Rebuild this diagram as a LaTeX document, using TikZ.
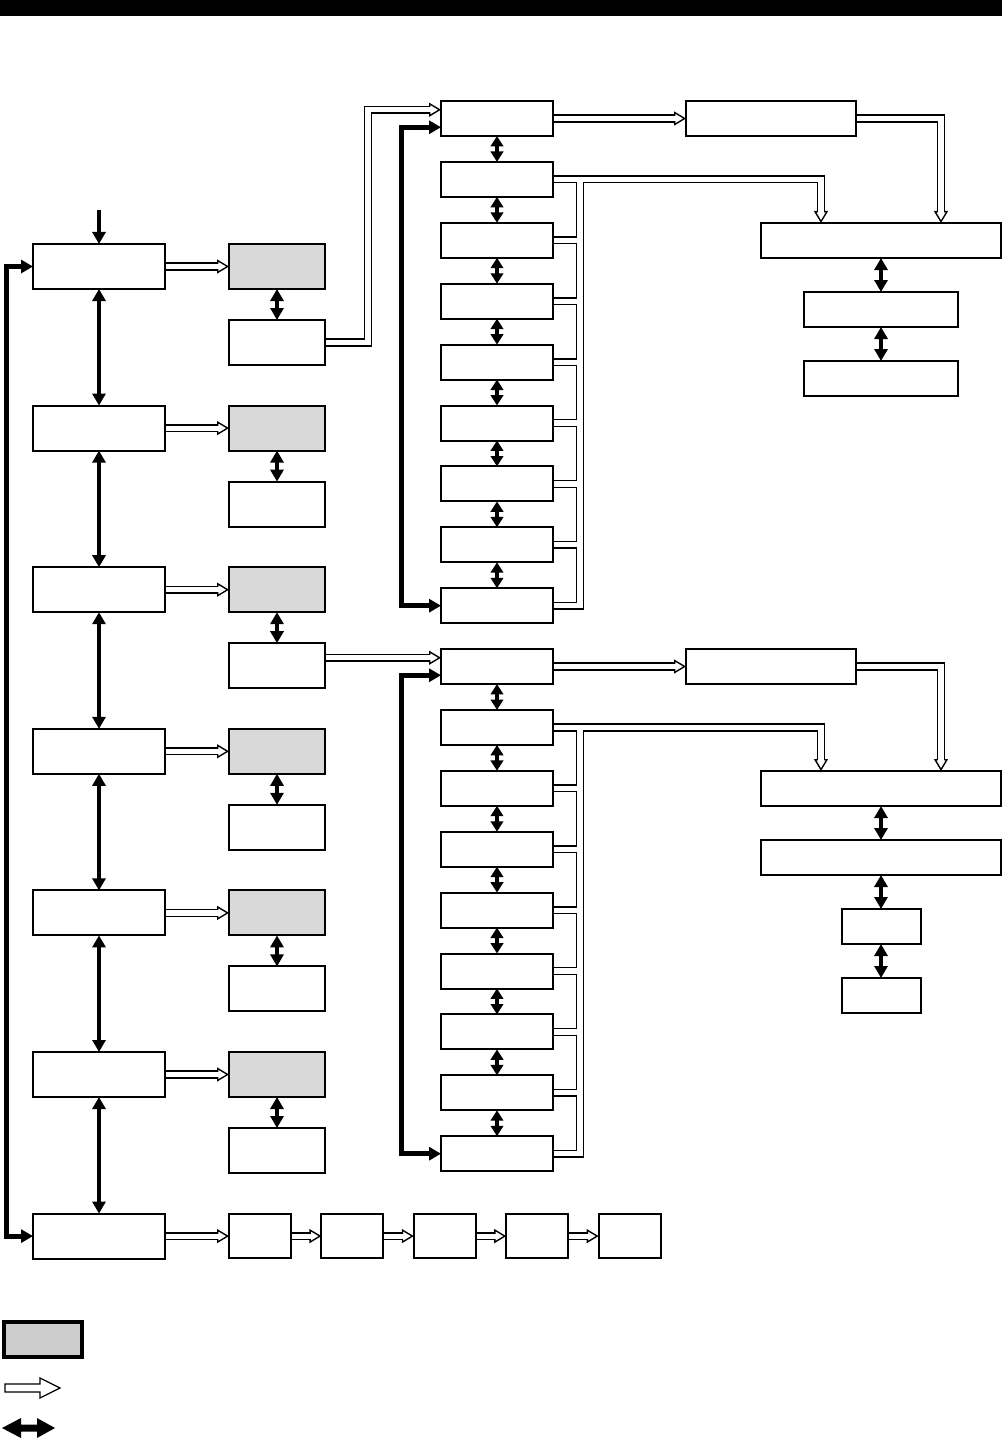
\documentclass[tikz,border=0pt]{standalone}
\usepackage{tikz}
\usetikzlibrary{calc, arrows.meta, positioning, backgrounds}

\begin{document}
\begin{tikzpicture}[
    x=0.5pt, y=-0.5pt,
    blk/.style={
        rectangle, draw=black, line width=1pt, fill=white,
        inner sep=0pt, outer sep=0pt, minimum height=17.5pt
    },
    ctlbox/.style={blk, minimum width=66pt, minimum height=22.5pt},
    selbox/.style={ctlbox, minimum width=48pt, fill=black!15},
    subbox/.style={ctlbox, minimum width=48pt},
    outbox/.style={blk, minimum width=31pt, minimum height=22pt},
    midbox/.style={blk, minimum width=56pt},
    longbox/.style={blk, minimum width=85pt},
    widebox/.style={blk, minimum width=120pt},
    unitbox/.style={blk, minimum width=77pt},
    smallbox/.style={blk, minimum width=39.5pt},
    keybox/.style={blk, line width=2pt, fill=black!20,
        minimum width=39pt, minimum height=17.5pt},
    link/.style={line width=2.1pt,
        {Triangle[length=6pt, width=6.5pt]}-{Triangle[length=6pt, width=6.5pt]}},
    shortlink/.style={line width=2pt,
        {Triangle[length=5.2pt, width=6.2pt]}-{Triangle[length=5.2pt, width=6.2pt]}},
    ring/.style={line width=2.5pt,
        {Triangle[length=6pt, width=6.5pt]}-{Triangle[length=6pt, width=6.5pt]}},
    feedarr/.style={line width=2.1pt, -{Triangle[length=6pt, width=6.5pt]}},
    chan/.style={line width=4.1pt, line join=miter},
    chanin/.style={line width=2.6pt, draw=white},
    chanhead/.style={-{Triangle[length=6pt, width=7pt, line width=0.7pt, fill=white]}},
    chanend/.style={shorten >=5pt}
]
\useasboundingbox (0,0) rectangle (1002,1439);
\fill[black] (0,0) rectangle (1002,16);

% Nodes
\foreach \i in {1,...,7}
    \node[ctlbox] (ctl\i) at (99,{266.5+161.6*(\i-1)}) {};
\foreach \i in {1,...,6} {
    \node[selbox] (sel\i) at (277,{266.5+161.6*(\i-1)}) {};
    \node[subbox, below=15.5pt of sel\i] (sub\i) {};
}
\node[outbox, right=32pt of ctl7] (out1) {};
\foreach \k [count=\j from 1] in {2,...,5}
    \node[outbox, right=15.2pt of out\j] (out\k) {};

\node[midbox] (a1) at (497,118.5) {};
\node[midbox] (b1) at (497,666.5) {};
\foreach \k [count=\j from 1] in {2,...,9} {
    \node[midbox, below=12.95pt of a\j] (a\k) {};
    \node[midbox, below=12.95pt of b\j] (b\k) {};
}

\node[longbox] (ra) at (771,118.5) {};
\node[widebox] (rb) at (881,240.5) {};
\node[unitbox, below=17pt of rb] (rc) {};
\node[unitbox, below=17pt of rc] (rd) {};

\node[longbox] (re) at (771,666.5) {};
\node[widebox] (rf) at (881,788.5) {};
\node[widebox, below=17pt of rf] (rg) {};
\node[smallbox, below=17pt of rg] (rh) {};
\node[smallbox, below=17pt of rh] (ri) {};

% Key
\node[keybox] (key) at (43,1339.5) {};
\draw[line width=0.65pt] (5,1384) -- (40,1384) -- (40,1378) -- (60,1388)
    -- (40,1398) -- (40,1392) -- (5,1392) -- cycle;
\fill[black] (2,1428) -- (21,1418) -- (21,1424.5) -- (37,1424.5) -- (37,1418)
    -- (55,1428) -- (37,1438) -- (37,1431.5) -- (21,1431.5) -- (21,1438) -- cycle;

% Anchors for the routed lines
\coordinate (feed) at (99,210);
\coordinate (bus) at (580,0);
\coordinate (a1u) at ($(a1.north west)!0.25!(a1.south west)$);
\coordinate (a1l) at ($(a1.north west)!0.75!(a1.south west)$);
\coordinate (b1u) at ($(b1.north west)!0.25!(b1.south west)$);
\coordinate (b1l) at ($(b1.north west)!0.75!(b1.south west)$);
\coordinate (rbl) at ($(rb.north west)!0.25!(rb.north east)$);
\coordinate (rbr) at ($(rb.north west)!0.75!(rb.north east)$);
\coordinate (rfl) at ($(rf.north west)!0.25!(rf.north east)$);
\coordinate (rfr) at ($(rf.north west)!0.75!(rf.north east)$);

% Hollow arrows (black pass, then white pass)
\begin{scope}[on background layer]
\foreach \pass/\head in {chan/chanhead, chanin/chanend} {
    \foreach \i in {1,...,6}
        \draw[\pass, \head] (ctl\i) -- (sel\i);
    \draw[\pass, \head] (ctl7) -- (out1);
    \foreach \k [count=\j from 1] in {2,...,5}
        \draw[\pass, \head] (out\j) -- (out\k);
    \draw[\pass, \head] (sub1.east) -- ++(43,0) |- (a1u);
    \draw[\pass, \head] (sub3.east |- b1u) -- (b1u);
    \draw[\pass, \head] (a1) -- (ra);
    \draw[\pass, \head] (ra.east) -| (rbr);
    \draw[\pass, \head] (b1) -- (re);
    \draw[\pass, \head] (re.east) -| (rfr);
    \draw[\pass] (a9.east) -| (bus |- a2.east);
    \draw[\pass] (b9.east) -| (bus |- b2.east);
    \foreach \k in {3,...,8} {
        \draw[\pass] (a\k.east) -- (bus |- a\k.east);
        \draw[\pass] (b\k.east) -- (bus |- b\k.east);
    }
    \draw[\pass, \head] (a2.east) -| (rbl);
    \draw[\pass, \head] (b2.east) -| (rfl);
}
\end{scope}

% Solid arrows
\draw[feedarr] (feed) -- (ctl1.north);
\foreach \k [count=\j from 1] in {2,...,7}
    \draw[link] (ctl\j) -- (ctl\k);
\foreach \i in {1,...,6}
    \draw[link] (sel\i) -- (sub\i);
\draw[ring] (ctl1.west) -- ++(-26.5,0) |- (ctl7.west);
\draw[ring] (a1l) -- ++(-40,0) |- (a9.west);
\draw[ring] (b1l) -- ++(-40,0) |- (b9.west);
\foreach \k [count=\j from 1] in {2,...,9} {
    \draw[shortlink] (a\j) -- (a\k);
    \draw[shortlink] (b\j) -- (b\k);
}
\draw[link] (rb) -- (rc);
\draw[link] (rc) -- (rd);
\draw[link] (rf) -- (rg);
\draw[link] (rg) -- (rh);
\draw[link] (rh) -- (ri);

\end{tikzpicture}
\end{document}
